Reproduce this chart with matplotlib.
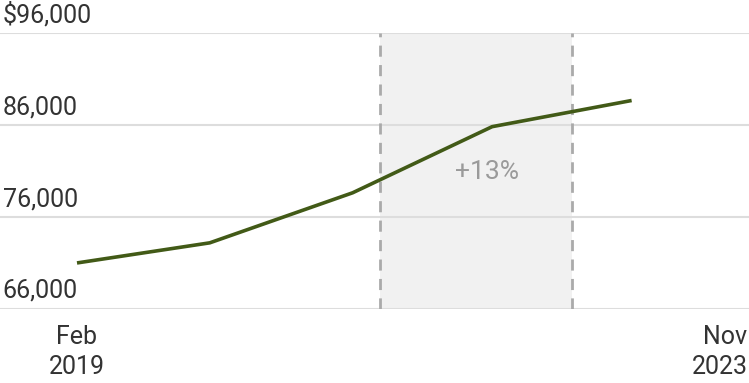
#! /usr/bin/env python3
#
# Salary trend line with shaded comparison window.
#

import matplotlib
matplotlib.use('agg')
import matplotlib.pyplot as plt

## Data (x in months since Feb 2019)
months = [0, 11.8, 24.5, 36.9, 49.3]
values = [70960, 73150, 78600, 85800, 88650]
yticks = [66000, 76000, 86000, 96000]
ytick_labels = ["66,000", "76,000", "86,000", "$96,000"]
xtick_pos = [0, 57]
xtick_labels = ["Feb\n2019", "Nov\n2023"]
window = (26.9, 44.0)
window_label = "+13%"

## Style
plt.rcParams['font.family'] = ['Roboto', 'DejaVu Sans']
line_color = '#425a17'
text_color = '#333333'
grid_color = '#dddddd'
fontsize = 18

fig = plt.figure(figsize=(7.49, 3.83), dpi=100)
ax = fig.add_axes([0, 1 - 308.5/383, 1, (308.5 - 33)/383])
ax.set_xlim(-77/11.25, (749 - 77)/11.25)
ax.set_ylim(yticks[0], yticks[-1])
ax.axis('off')

for y in yticks:
	ax.axhline(y, color=grid_color, linewidth=1.5, zorder=1)
	ax.annotate(ytick_labels[yticks.index(y)], xy=(0, y), xycoords=('axes fraction', 'data'),
				xytext=(2, 4), textcoords='offset points', ha='left', va='bottom',
				fontsize=fontsize, color=text_color, annotation_clip=False)

ax.axvspan(window[0], window[1], color='#f1f1f1', zorder=0, linewidth=0)
for xv in window:
	ax.axvline(xv, color='#aaaaaa', linestyle=(0, (4, 3)), linewidth=2, zorder=2)
ax.text(sum(window)/2 + 1.0, 80900, window_label, ha='center', va='center',
		fontsize=fontsize + 1, color='#9a9a9a', zorder=3)

ax.plot(months, values, color=line_color, linewidth=2.6, solid_capstyle='butt', zorder=4)

# x labels below the plot
ax.annotate(xtick_labels[0], xy=(xtick_pos[0], yticks[0]), xytext=(0, -12),
			textcoords='offset points', ha='center', va='top', fontsize=fontsize,
			color=text_color, linespacing=1.3, annotation_clip=False)
ax.annotate(xtick_labels[1], xy=(1, 0), xycoords='axes fraction', xytext=(-1, -12),
			textcoords='offset points', ha='right', va='top', fontsize=fontsize,
			color=text_color, linespacing=1.3, multialignment='right', annotation_clip=False)

fig.savefig('out.png', dpi=100)
